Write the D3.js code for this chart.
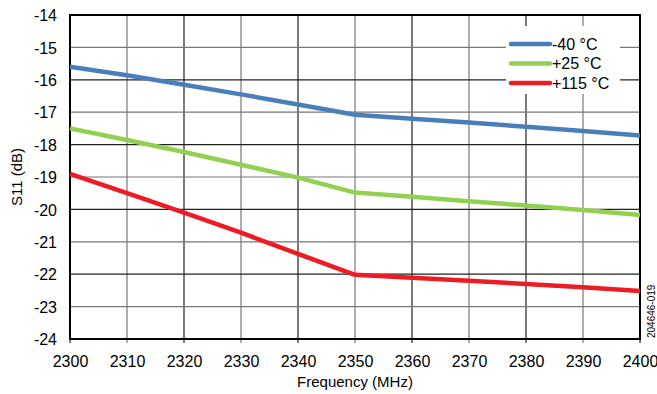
<!DOCTYPE html>
<html><head><meta charset="utf-8">
<script src="https://cdn.jsdelivr.net/npm/d3@7"></script>
<style>
body{margin:0;background:#fff;}
text{font-family:"Liberation Sans Narrow","Arial Narrow","Liberation Sans",Arial,sans-serif;}
</style></head><body>
<svg id="c" width="657" height="394"></svg>
<script>
const freq = [2300,2310,2320,2330,2340,2350,2360,2370,2380,2390,2400];
const sMinus40 = [-15.6,-15.86,-16.15,-16.45,-16.76,-17.08,-17.2,-17.32,-17.45,-17.58,-17.72];
const sPlus25 = [-17.5,-17.86,-18.23,-18.62,-19.02,-19.48,-19.61,-19.75,-19.88,-20.02,-20.17];
const sPlus115 = [-18.9,-19.5,-20.1,-20.72,-21.37,-22.02,-22.11,-22.2,-22.3,-22.4,-22.52];
const seriesNames = ["-40 °C","+25 °C","+115 °C"];
const xTicks = [2300,2310,2320,2330,2340,2350,2360,2370,2380,2390,2400];
const yTicks = [-24,-23,-22,-21,-20,-19,-18,-17,-16,-15,-14];
const colors = ["#4a7ebb","#92d050","#ed1c24"];

const svg = d3.select("#c");
const L=70,R=640,T=15,B=339;
const x = d3.scaleLinear().domain([2300,2400]).range([L,R]);
const y = d3.scaleLinear().domain([-24,-14]).range([B,T]);

// gridlines
const g = svg.append("g");
xTicks.forEach((t,i)=>{
  g.append("line").attr("x1",x(t)).attr("x2",x(t)).attr("y1",T).attr("y2",B+4)
   .attr("stroke", i%2===0?"#222":"#777").attr("stroke-width",1.2);
});
yTicks.forEach((t,i)=>{
  g.append("line").attr("x1",L).attr("x2",R).attr("y1",y(t)).attr("y2",y(t))
   .attr("stroke", i%2===0?"#222":"#777").attr("stroke-width",1.2);
});
svg.append("rect").attr("x",L).attr("y",T).attr("width",R-L).attr("height",B-T)
  .attr("fill","none").attr("stroke","#000").attr("stroke-width",2);

const fmt = d => String(d);
// axes labels
const xAxis = d3.axisBottom(x).tickValues(xTicks).tickSize(0).tickFormat(fmt);
const xa = svg.append("g").attr("transform",`translate(0,${B})`).call(xAxis);
xa.select(".domain").remove();
xa.selectAll("text").attr("dy",0).attr("y",28).attr("font-size",16).attr("fill","#000");
const yAxis = d3.axisLeft(y).tickValues(yTicks).tickSize(0).tickFormat(fmt);
const ya = svg.append("g").attr("transform",`translate(${L},0)`).call(yAxis);
ya.select(".domain").remove();
ya.selectAll("text").attr("x",-13).attr("dy","0.35em").attr("font-size",16).attr("fill","#000");

svg.append("text").attr("x",(L+R)/2).attr("y",387).attr("text-anchor","middle")
  .attr("font-size",15).text("Frequency (MHz)");
svg.append("text").attr("transform",`translate(22,${(T+B)/2}) rotate(-90)`).attr("text-anchor","middle")
  .attr("font-size",15).text("S11 (dB)");
svg.append("text").attr("transform",`translate(655,338) rotate(-90)`).attr("text-anchor","start")
  .attr("font-size",10).text("204646-019");

// lines
const line = d3.line().x((d,i)=>x(freq[i])).y(d=>y(d));
[sMinus40,sPlus25,sPlus115].forEach((s,k)=>{
  svg.append("path").datum(s).attr("d",line).attr("fill","none")
    .attr("stroke",colors[k]).attr("stroke-width",4.5).attr("stroke-linejoin","round");
});

// legend
const lg = svg.append("g");
lg.append("rect").attr("x",506).attr("y",26).attr("width",114).attr("height",68).attr("fill","#fff");
seriesNames.forEach((n,k)=>{
  const yy = 44 + k*19.5;
  lg.append("line").attr("x1",511).attr("x2",550).attr("y1",yy).attr("y2",yy)
    .attr("stroke",colors[k]).attr("stroke-width",4.5).attr("stroke-linecap","round");
  lg.append("text").attr("x",552).attr("y",yy).attr("dy","0.35em").attr("font-size",16).text(n);
});
</script></body></html>
